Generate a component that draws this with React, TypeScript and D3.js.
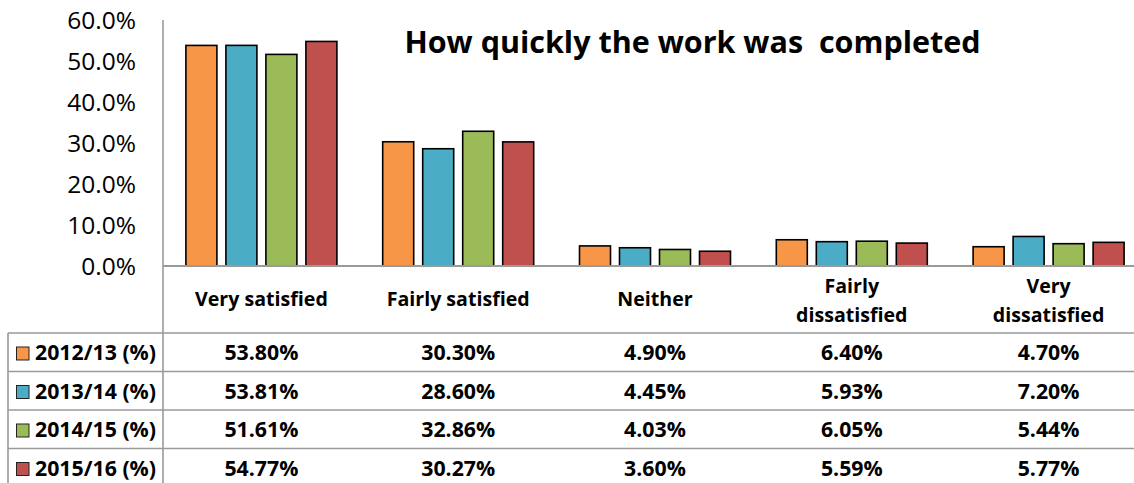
import React from "react";
import * as d3 from "d3";

const categories = ["Very satisfied", "Fairly satisfied", "Neither", "Fairly dissatisfied", "Very dissatisfied"];
const categoryLines = [["Very satisfied"], ["Fairly satisfied"], ["Neither"], ["Fairly", "dissatisfied"], ["Very", "dissatisfied"]];
const seriesNames = ["2012/13 (%)", "2013/14 (%)", "2014/15 (%)", "2015/16 (%)"];
const seriesColors = ["#F79646", "#4BACC6", "#9BBB59", "#C0504D"];
const values2012 = [53.8, 30.3, 4.9, 6.4, 4.7];
const values2013 = [53.81, 28.6, 4.45, 5.93, 7.2];
const values2014 = [51.61, 32.86, 4.03, 6.05, 5.44];
const values2015 = [54.77, 30.27, 3.6, 5.59, 5.77];
const seriesValues = [values2012, values2013, values2014, values2015];
const yTicks = [0, 10, 20, 30, 40, 50, 60];
const title = "How quickly the work was  completed";

const W = 1134;
const H = 483;
const FONT = "'Open Sans', sans-serif";

export default function App() {
  const plotLeft = 163;
  const plotRight = 1147;
  const y = d3.scaleLinear().domain([0, 60]).range([266, 20]);
  const x0 = d3.scaleBand<string>().domain(categories).range([plotLeft, plotRight]).paddingInner(0).paddingOuter(0);
  const x1 = d3
    .scaleBand<string>()
    .domain(seriesNames)
    .range([0, x0.bandwidth()])
    .paddingInner(0.225)
    .paddingOuter(0.5725);

  const rowTops = [333, 371.5, 410, 448.5];
  const gridColor = "#9a9a9a";

  return (
    <svg
      width={W}
      height={H}
      style={{ position: "absolute", left: 0, top: 0, background: "#fff", display: "block" }}
      fontFamily={FONT}
    >
      <rect x={0} y={0} width={W} height={H} fill="#fff" />
      <text x={692.5} y={52.7} textAnchor="middle" fontSize={30.5} fontWeight="bold" fill="#000" style={{ whiteSpace: "pre" }}>
        {title}
      </text>

      {yTicks.map((t) => (
        <text key={t} x={136} y={y(t)} dy="0.35em" textAnchor="end" fontSize={24.5} fill="#000">
          {d3.format(".1f")(t) + "%"}
        </text>
      ))}

      {categories.map((c, ci) => (
        <g key={c}>
          {seriesNames.map((s, si) => {
            const v = seriesValues[si][ci];
            const bx = (x0(c) as number) + (x1(s) as number);
            return (
              <rect
                key={s}
                x={bx}
                y={y(v)}
                width={x1.bandwidth()}
                height={y(0) - y(v)}
                fill={seriesColors[si]}
                stroke="#000"
                strokeWidth={1.6}
              />
            );
          })}
        </g>
      ))}

      <line x1={plotLeft} x2={W} y1={y(0)} y2={y(0)} stroke={gridColor} strokeWidth={2} />
      <line x1={plotLeft} x2={plotLeft} y1={y(60)} y2={H} stroke={gridColor} strokeWidth={1.6} />

      {categories.map((c, ci) => {
        const cx = (x0(c) as number) + x0.bandwidth() / 2;
        const lines = categoryLines[ci];
        const base = lines.length === 1 ? 306 : 293;
        return (
          <text key={c} textAnchor="middle" fontSize={19.6} fontWeight="bold" fill="#000">
            {lines.map((l, li) => (
              <tspan key={li} x={cx} y={base + li * 29}>
                {l}
              </tspan>
            ))}
          </text>
        );
      })}

      {rowTops.map((t, i) => (
        <line key={i} x1={8} x2={W} y1={t} y2={t} stroke={gridColor} strokeWidth={1.6} />
      ))}
      <line x1={8} x2={8} y1={rowTops[0]} y2={H} stroke={gridColor} strokeWidth={1.6} />

      {seriesNames.map((s, si) => {
        const top = rowTops[si];
        const base = top + 27.3;
        return (
          <g key={s}>
            <rect x={16.5} y={top + 14} width={12.5} height={13} fill={seriesColors[si]} stroke="#222" strokeWidth={1} />
            <text x={35} y={base} fontSize={21.3} fontWeight="bold" fill="#000">
              {s}
            </text>
            {categories.map((c, ci) => (
              <text
                key={c}
                x={(x0(c) as number) + x0.bandwidth() / 2}
                y={base}
                textAnchor="middle"
                fontSize={21.3}
                fontWeight="bold"
                fill="#000"
              >
                {d3.format(".2f")(seriesValues[si][ci]) + "%"}
              </text>
            ))}
          </g>
        );
      })}
    </svg>
  );
}
